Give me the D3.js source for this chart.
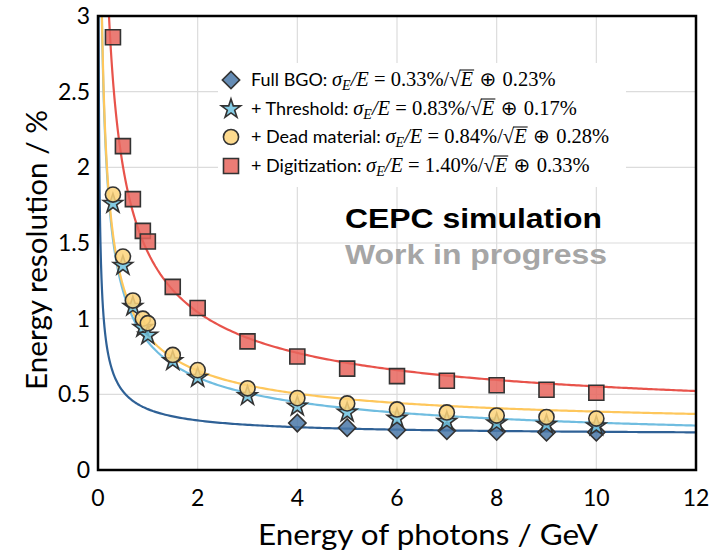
<!DOCTYPE html>
<html>
<head>
<meta charset="utf-8">
<script src="https://cdn.jsdelivr.net/npm/d3@7"></script>
<style>
  body { margin: 0; background: #fff; }
  svg { display: block; }
</style>
</head>
<body>
<div id="wrapper"></div>
<script>
// measured points (GeV, %)
var energies = [0.3, 0.5, 0.7, 0.9, 1, 1.5, 2, 3, 4, 5, 6, 7, 8, 9, 10];
var bgoEnergies = [4, 5, 6, 7, 8, 9, 10];
var bgoRes = [0.31, 0.28, 0.265, 0.26, 0.255, 0.25, 0.25];
var thresholdRes = [1.76, 1.35, 1.08, 0.94, 0.89, 0.72, 0.61, 0.49, 0.42, 0.38, 0.34, 0.32, 0.31, 0.30, 0.29];
var deadRes = [1.82, 1.41, 1.12, 1.00, 0.97, 0.76, 0.66, 0.54, 0.475, 0.44, 0.40, 0.38, 0.36, 0.35, 0.34];
var digiRes = [2.86, 2.14, 1.79, 1.58, 1.51, 1.21, 1.07, 0.85, 0.75, 0.67, 0.62, 0.59, 0.56, 0.53, 0.51];

// fit parameters from the legend: a%/sqrt(E) (+) b%
var seriesNames = ["Full BGO: ", "+ Threshold: ", "+ Dead material: ", "+ Digitization: "];
var stochTerm = [0.33, 0.83, 0.84, 1.40];
var constTerm = [0.23, 0.17, 0.28, 0.33];

var xTicks = [0, 2, 4, 6, 8, 10, 12];
var yTicks = [0, 0.5, 1, 1.5, 2, 2.5, 3];

var W = 715, H = 552;
var plotL = 98, plotR = 696, plotT = 16, plotB = 470;

var svg = d3.select('#wrapper')
            .append('svg')
            .attr('width', W)
            .attr('height', H);

var x = d3.scaleLinear().domain([0, 12]).range([plotL, plotR]);
var y = d3.scaleLinear().domain([0, 3]).range([plotB, plotT]);

var styles = [
  {fill: "#4a78a8", line: "#2f6196", shape: "diamond"},
  {fill: "#6ec3e0", line: "#70bde0", shape: "star"},
  {fill: "#fdd37a", line: "#fec75c", shape: "circle"},
  {fill: "#e8655d", line: "#e8534b", shape: "square"}
];

// grid
svg.append("g")
   .selectAll("line")
   .data(xTicks.slice(1, -1))
   .enter().append("line")
   .attr("x1", function(d) { return x(d); })
   .attr("x2", function(d) { return x(d); })
   .attr("y1", plotT).attr("y2", plotB)
   .attr("stroke", "#dcdcdc").attr("stroke-width", 1.2);

svg.append("g")
   .selectAll("line")
   .data(yTicks.slice(1, -1))
   .enter().append("line")
   .attr("y1", function(d) { return y(d); })
   .attr("y2", function(d) { return y(d); })
   .attr("x1", plotL).attr("x2", plotR)
   .attr("stroke", "#dcdcdc").attr("stroke-width", 1.2);

// legend background hides the grid
svg.append("rect")
   .attr("x", 218).attr("y", 63)
   .attr("width", 408).attr("height", 124)
   .attr("fill", "#fff");

// watermark text (reference is a bit stretched horizontally)
svg.append("text")
   .attr("x", 345).attr("y", 228)
   .attr("textLength", 257)
   .attr("lengthAdjust", "spacingAndGlyphs")
   .style("font-family", "Liberation Sans, Arial, sans-serif")
   .style("font-weight", "bold")
   .style("font-size", "27px")
   .attr("fill", "#000")
   .text("CEPC simulation");

svg.append("text")
   .attr("x", 345).attr("y", 264)
   .attr("textLength", 262)
   .attr("lengthAdjust", "spacingAndGlyphs")
   .style("font-family", "Liberation Sans, Arial, sans-serif")
   .style("font-weight", "bold")
   .style("font-size", "27px")
   .attr("fill", "#a6a6a6")
   .text("Work in progress");

// fit curves
svg.append("clipPath").attr("id", "plotclip")
   .append("rect")
   .attr("x", plotL).attr("y", plotT)
   .attr("width", plotR - plotL).attr("height", plotB - plotT);

var sampleE = d3.range(0.004, 0.05, 0.001).concat(d3.range(0.05, 1, 0.01)).concat(d3.range(1, 12.05, 0.05));

var line = d3.line()
             .x(function(d) { return x(d[0]); })
             .y(function(d) { return y(d[1]); });

var curves = svg.append("g").attr("clip-path", "url(#plotclip)");
for (var s = 0; s < 4; s++) {
  var pts = sampleE.map(function(e) {
    var a = stochTerm[s] / Math.sqrt(e), b = constTerm[s];
    return [e, Math.sqrt(a * a + b * b)];
  });
  curves.append("path")
        .datum(pts)
        .attr("d", line)
        .attr("fill", "none")
        .attr("stroke", styles[s].line)
        .attr("stroke-width", 2.2);
}

// markers
var sym = {
  diamond: d3.symbol().type(d3.symbolSquare).size(150),
  star: d3.symbol().type(d3.symbolStar).size(115),
  circle: d3.symbol().type(d3.symbolCircle).size(180),
  square: d3.symbol().type(d3.symbolSquare).size(225)
};

function drawMarker(g, shape, cx, cy, fill) {
  var p = g.append("path")
           .attr("d", sym[shape]())
           .attr("fill", fill)
           .attr("fill-opacity", 0.85)
           .attr("stroke", "#333")
           .attr("stroke-width", 1.6);
  var tr = "translate(" + cx + "," + cy + ")";
  if (shape === "diamond") tr += " rotate(45)";
  p.attr("transform", tr);
  return p;
}

var seriesData = [
  d3.zip(bgoEnergies, bgoRes),
  d3.zip(energies, thresholdRes),
  d3.zip(energies, deadRes),
  d3.zip(energies, digiRes)
];

var marks = svg.append("g");
seriesData.forEach(function(data, s) {
  data.forEach(function(d) {
    drawMarker(marks, styles[s].shape, x(d[0]), y(d[1]), styles[s].fill);
  });
});

// frame
svg.append("rect")
   .attr("x", plotL).attr("y", plotT)
   .attr("width", plotR - plotL).attr("height", plotB - plotT)
   .attr("fill", "none")
   .attr("stroke", "#000")
   .attr("stroke-width", 2.5);

// tick labels
var tickFont = "Lato, 'Open Sans', sans-serif";
svg.append("g")
   .selectAll("text")
   .data(xTicks)
   .enter().append("text")
   .attr("x", function(d) { return x(d); })
   .attr("y", 506)
   .attr("text-anchor", "middle")
   .style("font-family", tickFont)
   .style("font-size", "23px")
   .text(function(d) { return d; });

svg.append("g")
   .selectAll("text")
   .data(yTicks)
   .enter().append("text")
   .attr("x", 90)
   .attr("y", function(d) { return y(d) + 8; })
   .attr("text-anchor", "end")
   .style("font-family", tickFont)
   .style("font-size", "23px")
   .text(function(d) { return d; });

// axis titles
svg.append("text")
   .attr("x", 258).attr("y", 545)
   .attr("textLength", 340)
   .attr("lengthAdjust", "spacingAndGlyphs")
   .style("font-family", tickFont)
   .style("font-size", "29px")
   .text("Energy of photons / GeV");

svg.append("text")
   .attr("transform", "translate(47,390) rotate(-90)")
   .attr("textLength", 280)
   .attr("lengthAdjust", "spacingAndGlyphs")
   .style("font-family", tickFont)
   .style("font-size", "29px")
   .text("Energy resolution / %");

// legend
var legendRows = [80, 109, 137, 166];
var serif = "'Liberation Serif', 'DejaVu Serif', serif";
for (var k = 0; k < 4; k++) {
  var ly = legendRows[k];
  drawMarker(svg, styles[k].shape, 231, ly, styles[k].fill);

  var t = svg.append("text")
             .attr("x", 251).attr("y", ly + 6)
             .style("font-size", "20.5px");
  t.append("tspan").style("font-family", tickFont).style("font-size", "18px").text(seriesNames[k]);
  t.append("tspan").style("font-family", serif).style("font-style", "italic").text("\u03C3");
  t.append("tspan").style("font-family", serif).style("font-style", "italic")
   .style("font-size", "14px").attr("dy", 4).text("E");
  t.append("tspan").style("font-family", serif).style("font-style", "italic")
   .attr("dy", -4).text("/E");
  t.append("tspan").style("font-family", serif)
   .text(" = " + stochTerm[k].toFixed(2) + "%/");
  var root = t.append("tspan").style("font-family", serif).text("\u221A");
  var ev = t.append("tspan").style("font-family", serif).style("font-style", "italic").text("E");
  t.append("tspan").style("font-family", "'DejaVu Sans', sans-serif").style("font-size", "20px")
   .text(" \u2295 ");
  t.append("tspan").style("font-family", serif)
   .text(constTerm[k].toFixed(2) + "%");

  // overline for the square root
  var r0 = root.node().getExtentOfChar(0);
  var e0 = ev.node().getExtentOfChar(0);
  svg.append("line")
     .attr("x1", r0.x + r0.width - 1).attr("x2", e0.x + e0.width + 1)
     .attr("y1", r0.y + 2).attr("y2", r0.y + 2)
     .attr("stroke", "#000").attr("stroke-width", 1);
}
</script>
</body>
</html>
